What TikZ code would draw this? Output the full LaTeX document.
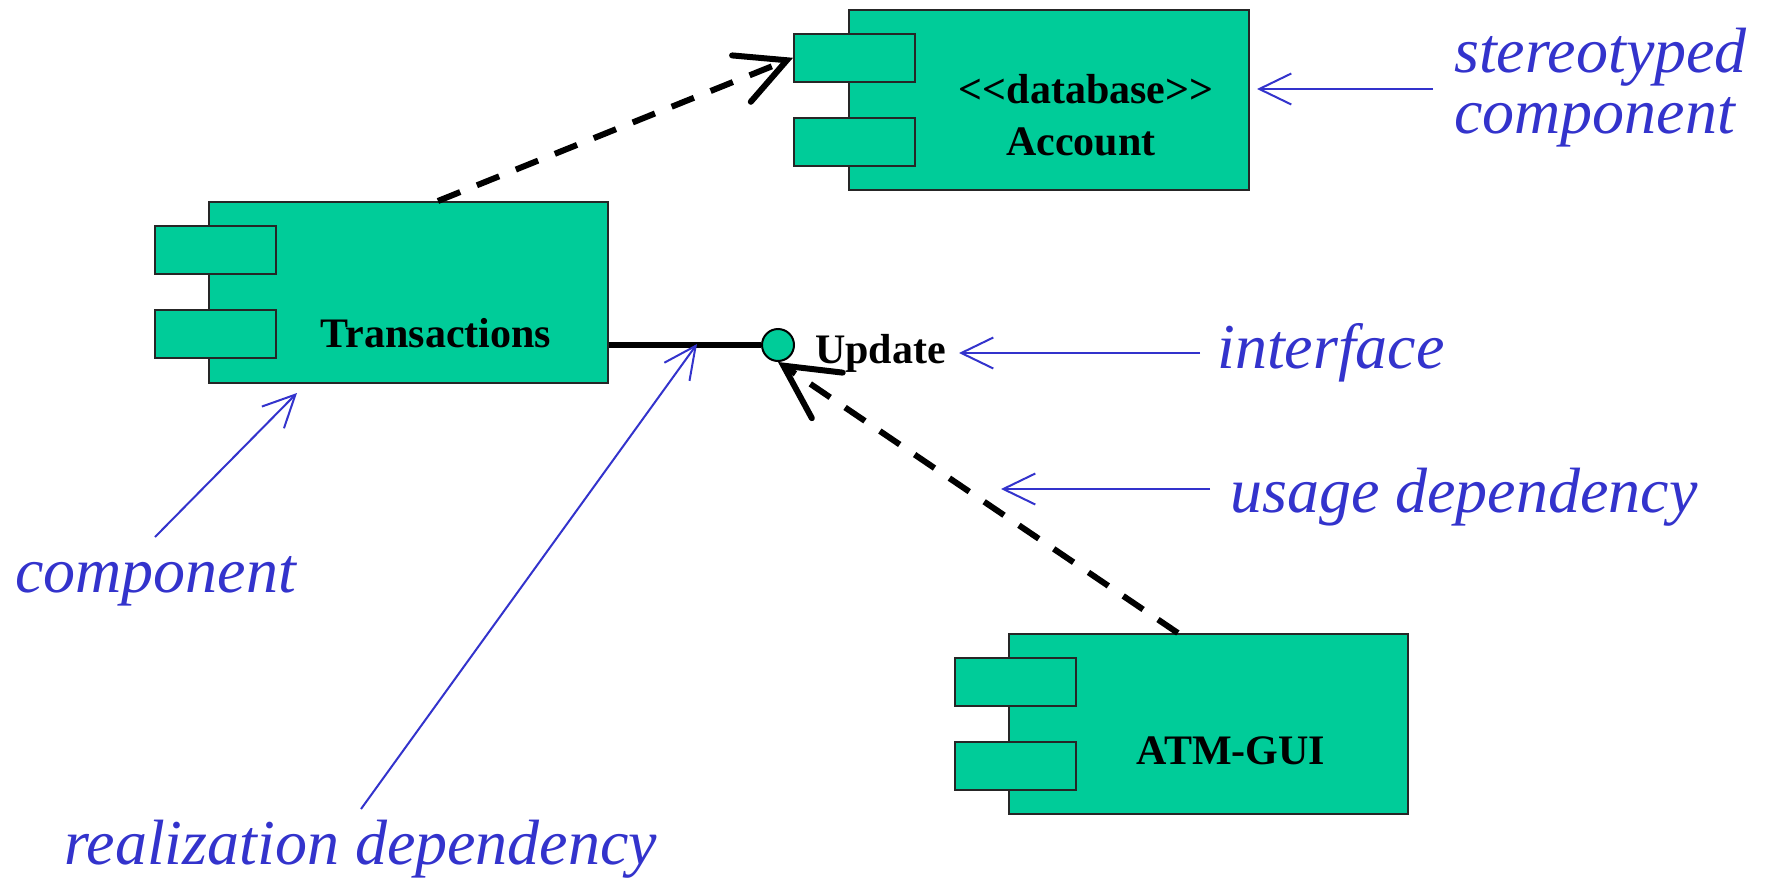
\documentclass[tikz,border=0pt]{standalone}
\usepackage{fontspec}
\setmainfont{Liberation Serif}
\usetikzlibrary{arrows.meta,calc}
\definecolor{compgreen}{RGB}{0,204,153}
\definecolor{annblue}{RGB}{51,51,204}
\begin{document}
\begin{tikzpicture}[x=1pt,y=-1pt,
  box/.style={draw=black!85, line width=1.6pt, fill=compgreen, rectangle, inner sep=0pt, anchor=north west},
  mainbox/.style={box, minimum width=399pt, minimum height=181pt},
  portbox/.style={box, minimum width=121pt, minimum height=48pt},
  lbl/.style={inner sep=0pt, font=\fontsize{42}{50}\selectfont\bfseries},
  ann/.style={inner sep=0pt, anchor=base west, text=annblue, font=\fontsize{64}{70}\selectfont\itshape},
  annarrow/.style={draw=annblue, line width=2pt, -{Straight Barb[length=32pt,width=31pt]}},
  deparrow/.style={draw=black, line width=6pt, dash pattern=on 24pt off 18pt,
     -{Straight Barb[length=49pt,width=50pt,line cap=round]}},
  link/.style={draw=black, line width=6pt}
]
\useasboundingbox (0,0) rectangle (1771,878);

% Transactions
\node[mainbox] (trans) at (208,201) {};
\node[portbox] (transp1) at (154,225) {};
\node[portbox] (transp2) at (154,309) {};
\node[lbl, anchor=base] (transl) at (436,347) {Transactions};

% Account
\node[mainbox, minimum width=400pt, minimum height=180pt] (acc) at (848,9) {};
\node[portbox] (accp1) at (793,33) {};
\node[portbox] (accp2) at (793,117) {};
\node[lbl, anchor=base] (accst) at (1086,103) {<{}<database>{}>};
\node[lbl, anchor=base] (accl) at (1081,155) {Account};

% ATM-GUI
\node[mainbox, minimum height=180pt] (gui) at (1008,633) {};
\node[portbox] (guip1) at (954,657) {};
\node[portbox] (guip2) at (954,741) {};
\node[lbl, anchor=base] (guil) at (1231,764) {ATM-GUI};

% interface
\node[circle, draw=black, line width=2pt, fill=compgreen, minimum size=32pt, inner sep=0pt] (iface) at (778,345) {};
\node[lbl, anchor=base west] (ifacel) at (815,363) {Update};

% connectors
\draw[link] (trans.east |- iface.west) -- (iface.west);
\draw[deparrow] ($(trans.north west)!0.574!(trans.north east)$) -- (accp1.west);
\draw[deparrow, -{Straight Barb[length=53pt,width=55pt,line cap=round]}]
  ($(gui.north west)!0.424!(gui.north east)$) -- (iface.south);

% annotations
\node[ann] (stereo1) at (1454,72) {stereotyped};
\node[ann] (stereo2) at (1454,133) {component};
\coordinate (stereoS) at (1433,89);
\coordinate (stereoT) at (1257,89);
\draw[annarrow] (stereoS) -- (stereoT);

\node[ann] (ifaceann) at (1217,368) {interface};
\coordinate (ifaceS) at (1200,353);
\coordinate (ifaceT) at (959,353);
\draw[annarrow] (ifaceS) -- (ifaceT);

\node[ann] (usageann) at (1230,512) {usage dependency};
\coordinate (usageS) at (1210,489);
\coordinate (usageT) at (1001,489);
\draw[annarrow] (usageS) -- (usageT);

\node[ann] (compann) at (15,592) {component};
\coordinate (compS) at (155,537);
\coordinate (compT) at (297,393);
\draw[annarrow] (compS) -- (compT);

\node[ann] (realann) at (64,864) {realization dependency};
\coordinate (realS) at (361,809);
\coordinate (realT) at (697,344);
\draw[annarrow] (realS) -- (realT);
\end{tikzpicture}
\end{document}
